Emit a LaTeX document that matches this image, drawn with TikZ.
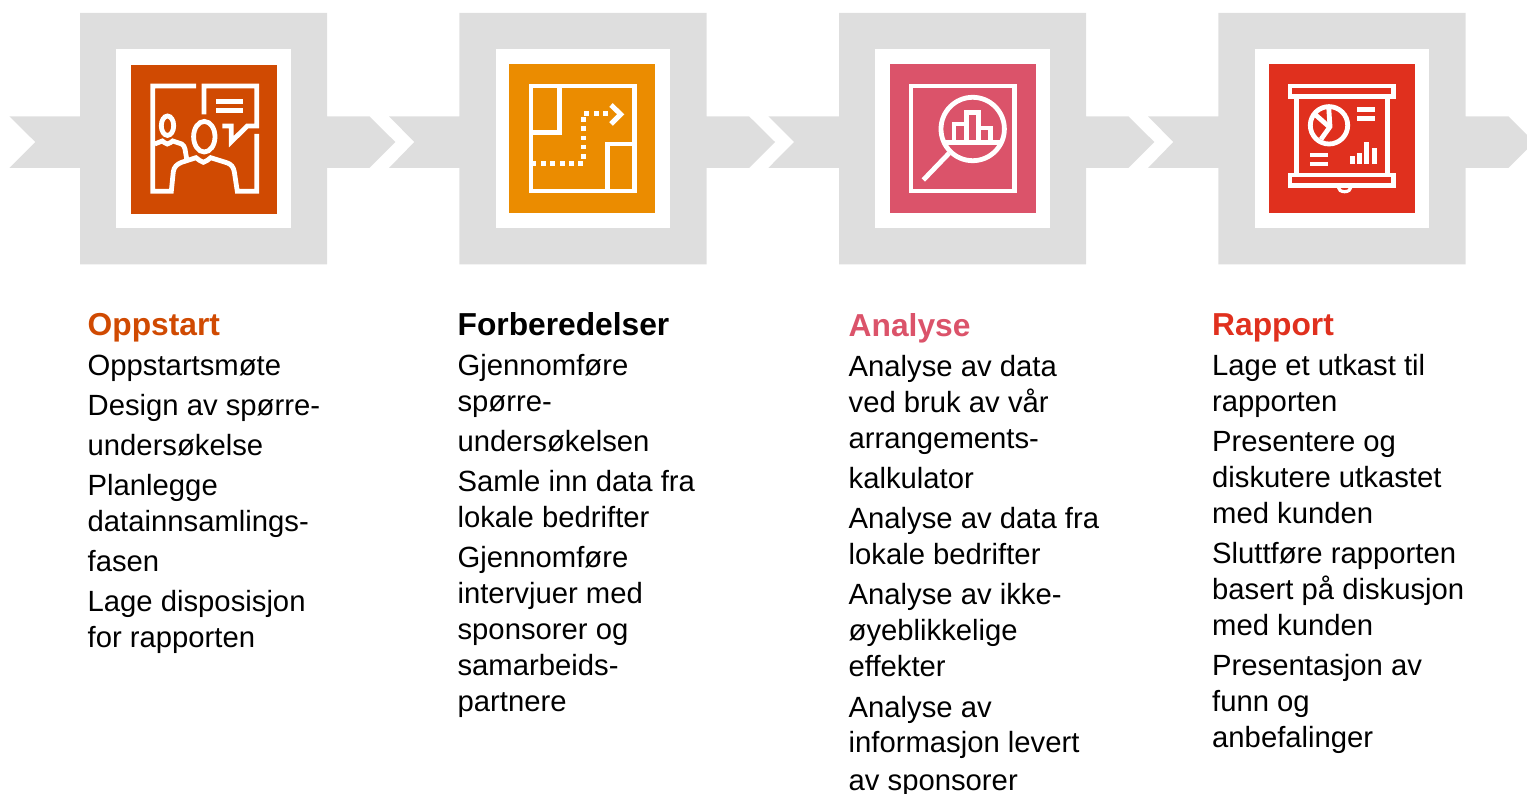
\documentclass[tikz,border=0pt]{standalone}
\usepackage{fontspec}
\setmainfont{Liberation Sans}
\definecolor{band}{HTML}{DEDEDE}
\definecolor{cA}{HTML}{D04A02}
\definecolor{cB}{HTML}{EB8C00}
\definecolor{cC}{HTML}{DB536A}
\definecolor{cD}{HTML}{E0301E}
\tikzset{
  bandshape/.style={fill=band,draw=none},
  whitebox/.style={fill=white,draw=none},
  ic/.style={draw=white,line width=4.8pt,fill=none,line join=miter},
  icfill/.style={fill=white,draw=none},
  body/.style={anchor=base west,inner sep=0pt,outer sep=0pt,font=\fontsize{29.25}{35}\selectfont,text=black},
  head/.style={anchor=base west,inner sep=0pt,outer sep=0pt,font=\fontsize{31.75}{38}\bfseries\selectfont},
}
\newcommand{\stage}[8]{%
  % #1 notch x, #2 notch tip, #3 sq left, #4 sq right, #5 arrow end, #6 tip, #7 white l, #8 white r
  \fill[bandshape] (#1,116.3) -- (#3,116.3) -- (#3,13) -- (#4,13) -- (#4,116.3) -- (#5,116.3) -- (#6,142) -- (#5,168) -- (#4,168) -- (#4,264.5) -- (#3,264.5) -- (#3,168) -- (#1,168) -- (#2,142) -- cycle;
  \fill[whitebox] (#7,49) rectangle (#8,228);
}
\begin{document}
\begin{tikzpicture}[x=1pt,y=-1pt]
\useasboundingbox (0,0) rectangle (1527,794);
\clip (0,0) rectangle (1527,794);
\stage{9.3}{35.3}{80}{327}{369.3}{395.3}{116}{291}
\fill[cA] (131,65) rectangle (277,214);
\stage{389}{414.3}{459.3}{706.7}{749}{775}{495.7}{670}
\fill[cB] (509,64) rectangle (655,213);
\stage{768.3}{794}{839}{1086}{1128.3}{1154.3}{875}{1050}
\fill[cC] (890,64) rectangle (1036,213);
\stage{1148}{1173.3}{1218.3}{1465.7}{1508.3}{1534.3}{1255}{1429}
\fill[cD] (1269,64) rectangle (1415,213);

% Icon 1: people and speech bubble
\draw[ic] (196,86) -- (152.7,86) -- (152.7,191.3) -- (171.3,191.3) -- (173.3,171.7)
  .. controls (174,167) and (177,164) .. (181.7,162.3) -- (196,157.7)
  .. controls (199,159) and (200,162) .. (203.3,162.3)
  .. controls (207,162) and (208,159) .. (210.7,157.7) -- (226.7,162.7)
  .. controls (231,164) and (233.5,167) .. (234.3,171.7) -- (237.3,191.3) -- (256.7,191.3) -- (256.7,134);
\draw[ic] (204,114.3) -- (204,86) -- (256.7,86) -- (256.7,126) -- (247.3,126) -- (231.3,141.7) -- (231.3,126) -- (222.3,126);
\fill[icfill] (216,99) rectangle (243,103.7);
\fill[icfill] (216,108.3) rectangle (243,113);
\draw[ic] (167.5,125.7) ellipse [x radius=6.2,y radius=9.7];
\draw[ic] (204.3,136.7) ellipse [x radius=10.7,y radius=15.3];
\draw[ic] (154.7,144) -- (162.3,141) .. controls (164,141.5) and (165,144) .. (167.3,144)
  .. controls (170,144) and (171,141.5) .. (172.7,141) -- (181.7,144)
  .. controls (183.5,145) and (184.5,147) .. (185,149) -- (186.7,159);

% Icon 2: floor plan
\draw[ic] (531,86) rectangle (634.3,191);
\draw[ic] (559.7,86) -- (559.7,132.7) -- (531,132.7);
\draw[ic] (607.3,191) -- (607.3,144) -- (634.3,144);
\foreach \px/\py in {534/163.3,543.3/163.3,552.7/163.3,562.3/163.3,571.7/163.3,580.7/163.3,
  583.3/156.3,583.3/147,583.3/138,583.3/128.3,583.3/119.3,586.3/113.3,596.3/113.3,605.7/113.3}
  \fill[icfill] (\px-2.4,\py-2.4) rectangle (\px+2.4,\py+2.4);
\draw[ic,line width=5pt] (611,105) -- (620.7,114.3) -- (611,124);

% Icon 3: magnifier with chart
\draw[ic] (911,86) rectangle (1014.7,191);
\draw[ic] (972.7,129) circle [radius=31.7];
\draw[ic] (945,142.7) -- (1000,142.7);
\draw[ic] (923.3,180) -- (949,153.3);
\draw[ic] (954,142.7) -- (954,124) -- (966.7,124) -- (966.7,142.7);
\draw[ic] (966.7,142.7) -- (966.7,112.5) -- (978.7,112.5) -- (978.7,142.7);
\draw[ic] (978.7,128) -- (990.3,128) -- (990.3,142.7);

% Icon 4: projection screen
\draw[ic] (1290,86) rectangle (1393.3,96.7);
\draw[ic] (1290,175) rectangle (1393.3,185.7);
\draw[ic] (1296.3,96.7) -- (1296.3,175);
\draw[ic] (1387.7,96.7) -- (1387.7,175);
\draw[ic] (1329,125.3) circle [radius=18.7];
\draw[ic] (1328.7,107.3) -- (1330,126.7) -- (1321,139.3);
\draw[ic] (1315.7,115) -- (1329,126.7);
\fill[icfill] (1357,107) rectangle (1375,111.7);
\fill[icfill] (1357,116) rectangle (1375,120.7);
\fill[icfill] (1310,153) rectangle (1328,157);
\fill[icfill] (1310,161.7) rectangle (1328,166);
\fill[icfill] (1350,155.7) rectangle (1355,163.7);
\fill[icfill] (1357,153) rectangle (1362,163.7);
\fill[icfill] (1364,142) rectangle (1369,163.7);
\fill[icfill] (1372,148) rectangle (1377,163.7);
\draw[ic,line width=3.2pt] (1338.4,187.5) arc [start angle=180,end angle=0,x radius=6.2,y radius=4.2];

% Column 1
\node[head,text=cA] (h1) at (87.7,336) {Oppstart};
\node[body] (a1) at (87.7,376) {Oppstartsmøte};
\node[body] (a2) at (87.7,416) {Design av spørre-};
\node[body] (a3) at (87.7,455) {undersøkelse};
\node[body] (a4) at (87.7,495) {Planlegge};
\node[body] (a5) at (87.7,531) {datainnsamlings-};
\node[body] (a6) at (87.7,571) {fasen};
\node[body] (a7) at (87.7,611) {Lage disposisjon};
\node[body] (a8) at (87.7,647) {for rapporten};
% Column 2
\node[head,text=black] (h2) at (457.6,336) {Forberedelser};
\node[body] (b1) at (457.6,376) {Gjennomføre};
\node[body] (b2) at (457.6,411) {spørre-};
\node[body] (b3) at (457.6,451) {undersøkelsen};
\node[body] (b4) at (457.6,491) {Samle inn data fra};
\node[body] (b5) at (457.6,527) {lokale bedrifter};
\node[body] (b6) at (457.6,567) {Gjennomføre};
\node[body] (b7) at (457.6,603) {intervjuer med};
\node[body] (b8) at (457.6,639) {sponsorer og};
\node[body] (b9) at (457.6,675) {samarbeids-};
\node[body] (b10) at (457.6,711) {partnere};
% Column 3
\node[head,text=cC] (h3) at (848.7,337) {Analyse};
\node[body] (c1) at (848.7,377) {Analyse av data};
\node[body] (c2) at (848.7,413) {ved bruk av vår};
\node[body] (c3) at (848.7,448) {arrangements-};
\node[body] (c4) at (848.7,488) {kalkulator};
\node[body] (c5) at (848.7,528) {Analyse av data fra};
\node[body] (c6) at (848.7,564) {lokale bedrifter};
\node[body] (c7) at (848.7,604) {Analyse av ikke-};
\node[body] (c8) at (848.7,640) {øyeblikkelige};
\node[body] (c9) at (848.7,676) {effekter};
\node[body] (c10) at (848.7,717) {Analyse av};
\node[body] (c11) at (848.7,752) {informasjon levert};
\node[body] (c12) at (848.7,790) {av sponsorer};
% Column 4
\node[head,text=cD] (h4) at (1212.2,336) {Rapport};
\node[body] (d1) at (1212.2,376) {Lage et utkast til};
\node[body] (d2) at (1212.2,411) {rapporten};
\node[body] (d3) at (1212.2,451) {Presentere og};
\node[body] (d4) at (1212.2,487) {diskutere utkastet};
\node[body] (d5) at (1212.2,523) {med kunden};
\node[body] (d6) at (1212.2,563) {Sluttføre rapporten};
\node[body] (d7) at (1212.2,599) {basert på diskusjon};
\node[body] (d8) at (1212.2,635) {med kunden};
\node[body] (d9) at (1212.2,675) {Presentasjon av};
\node[body] (d10) at (1212.2,711) {funn og};
\node[body] (d11) at (1212.2,747) {anbefalinger};
\end{tikzpicture}
\end{document}
